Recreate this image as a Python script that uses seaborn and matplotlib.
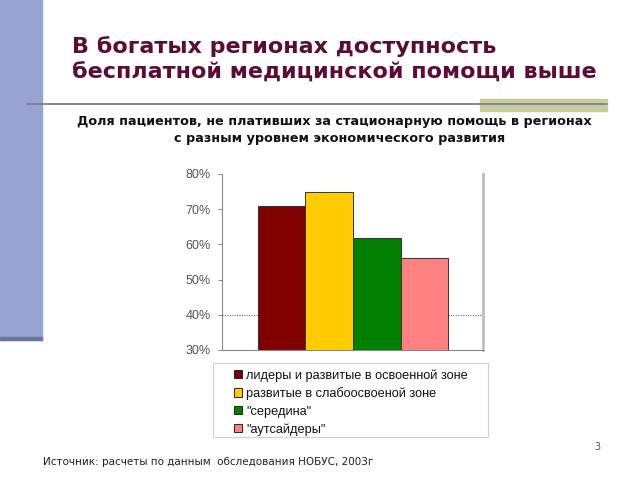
import matplotlib
matplotlib.use("Agg")
import matplotlib.pyplot as plt
import matplotlib.patches as mpatches
import seaborn as sns
import pandas as pd

categories = ["лидеры и развитые в освоенной зоне",
              "развитые в слабоосвоеной зоне",
              "\"середина\"",
              "\"аутсайдеры\""]
values = [70.9, 74.8, 61.8, 56.0]
colors = ["#800000", "#ffcc00", "#008000", "#ff8080"]
yticks = [30, 40, 50, 60, 70, 80]
ytick_labels = ["30%", "40%", "50%", "60%", "70%", "80%"]

title_lines = ["В богатых регионах доступность",
               "бесплатной медицинской помощи выше"]
subtitle_lines = ["Доля пациентов, не плативших за стационарную помощь в регионах",
                  "с разным уровнем экономического развития"]
source = "Источник: расчеты по данным  обследования НОБУС, 2003г"

sns.set_theme(style="white")
plt.rcParams['font.family'] = ['DejaVu Sans']

W, H = 640, 480
fig = plt.figure(figsize=(6.4, 4.8), dpi=100)

def fx(x): return x / W
def fy(y): return 1 - y / H

# decorative elements
fig.patches.append(mpatches.Rectangle((0, fy(340)), fx(42), 340 / H,
                                      transform=fig.transFigure, color="#98a3d1", zorder=0))
fig.patches.append(mpatches.Rectangle((0, fy(340)), fx(42), 3 / H,
                                      transform=fig.transFigure, color="#6d73a0", zorder=1))
fig.patches.append(mpatches.Rectangle((fx(480), fy(111)), fx(127), 12 / H,
                                      transform=fig.transFigure, color="#c8cb9c", zorder=0))
fig.add_artist(plt.Line2D([fx(27), fx(607)], [fy(104), fy(104)],
                          transform=fig.transFigure, color="#7c7f9a", lw=1.3, zorder=2))

# titles
fig.text(fx(72), fy(53), title_lines[0], fontsize=16.0, fontweight="bold",
         color="#5c0c32", va="baseline", ha="left")
fig.text(fx(72), fy(78.5), title_lines[1], fontsize=16.0, fontweight="bold",
         color="#5c0c32", va="baseline", ha="left")
fig.text(fx(334), fy(122), subtitle_lines[0], fontsize=9.2, fontweight="bold",
         color="#111111", va="center", ha="center")
fig.text(fx(340), fy(138.5), subtitle_lines[1], fontsize=9.2, fontweight="bold",
         color="#111111", va="center", ha="center")

# chart
ax = fig.add_axes([fx(222), fy(350), fx(483) - fx(222), (350 - 174) / H])
df = pd.DataFrame({"cat": categories, "val": values})
sns.barplot(data=df, x="cat", y="val", hue="cat", palette=colors, dodge=False,
            saturation=1, width=1.0, edgecolor="#333333", linewidth=0.7, ax=ax,
            legend=False, zorder=3)
ax.axhline(40, color="#555555", lw=0.7, ls=(0, (1, 1.5)), zorder=1)
ax.set_ylim(30, 80)
ax.set_xlim(-1.255, 4.235)
ax.set_yticks(yticks)
ax.set_yticklabels(ytick_labels, fontsize=9, color="#555555", family="Liberation Sans")
ax.set_xticks([])
ax.set_xlabel("")
ax.set_ylabel("")
ax.tick_params(axis="y", length=3, width=0.7, color="#888888", pad=5, left=True)
ax.spines["top"].set_visible(False)
ax.spines["left"].set_color("#888888")
ax.spines["left"].set_linewidth(0.8)
ax.spines["bottom"].set_color("#888888")
ax.spines["bottom"].set_linewidth(0.8)
ax.spines["right"].set_color("#c0c0c0")
ax.spines["right"].set_linewidth(2)
ax.set_facecolor("white")

# legend frame
fig.patches.append(mpatches.Rectangle((fx(213), fy(437)), fx(488) - fx(213), (437 - 363) / H,
                                      transform=fig.transFigure, facecolor="white",
                                      edgecolor="#d0d0d0", lw=0.8, zorder=1))
handles = [mpatches.Patch(facecolor=c, edgecolor="#222222", linewidth=0.7) for c in colors]
leg = fig.legend(handles, categories, loc="upper left",
                 bbox_to_anchor=(fx(234), fy(369)),
                 frameon=False, prop={"family": "Liberation Sans", "size": 9.2},
                 handlelength=0.6, handleheight=0.6, handletextpad=0.35,
                 labelspacing=0.44, borderpad=0, borderaxespad=0)
for t in leg.get_texts():
    t.set_color("#111111")

fig.text(fx(43), fy(462), source, fontsize=7.5, color="#222222", va="center", ha="left")
fig.text(fx(597), fy(447), "3", fontsize=7, color="#555555", va="center", ha="center")

fig.savefig("out.png", dpi=100, facecolor="white")
